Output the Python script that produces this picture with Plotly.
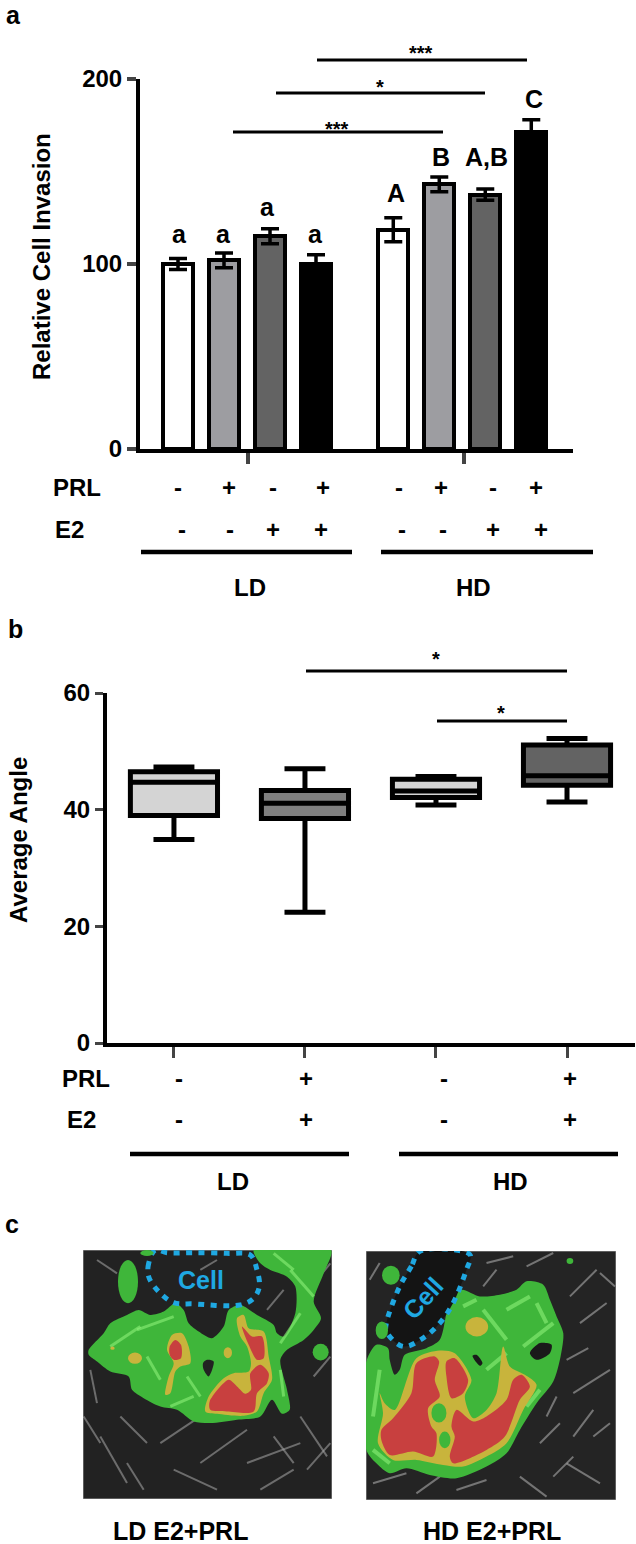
import plotly.graph_objects as go

W, H = 636, 1544
FONT = "Liberation Sans"

# ---- panel a data
bar_pos = [1, 2, 3, 4, 5.68, 6.68, 7.68, 8.68]
invasion = [100, 102, 115, 100, 118.5, 143, 137.5, 171.5]
invasion_err = [3, 4, 4, 5, 6.5, 4, 3, 6.5]
bar_fill = ["#ffffff", "#9d9da1", "#636363", "#000000", "#ffffff", "#9d9da1", "#636363", "#000000"]
a_letters = ["a", "a", "a", "a", "A", "B", "A,B", "C"]
a_letter_px = [(179, 234), (223, 234), (267, 207), (315, 234), (396, 193), (441, 157), (486, 157), (534, 99)]
a_group_ticks = [2.52, 7.217]
a_prl = ["-", "+", "-", "+", "-", "+", "-", "+"]
a_prl_x = [178, 229, 273, 323, 399, 441, 493, 536]
a_e2 = ["-", "-", "+", "+", "-", "-", "+", "+"]
a_e2_x = [182, 230, 273, 321, 402, 443, 493, 541]

# ---- panel b data
box_pos = [1, 2, 3, 4]
box_low = [34.9, 22.4, 40.8, 41.3]
box_q1 = [39.0, 38.5, 42.1, 44.2]
box_med = [44.7, 41.1, 43.2, 45.8]
box_q3 = [46.5, 43.3, 45.2, 51.1]
box_high = [47.3, 47.0, 45.7, 52.2]
box_fill = ["#d4d4d4", "#7f7f7f", "#d4d4d4", "#636363"]
b_prl = ["-", "+", "-", "+"]
b_e2 = ["-", "+", "-", "+"]
b_sign_x = [179, 306, 444, 570]

# ---- annotation layout
sig_lines = [(317, 527, 60), (276, 485, 93), (233, 443, 132), (306, 567, 671), (437, 567, 721)]
sig_stars = [("***", 421, 53), ("*", 380, 87), ("***", 337, 129), ("*", 436, 659), ("*", 501, 713)]
group_lines = [(141, 352, 552), (381, 593, 552), (130, 349, 1154), (399, 618, 1154)]

# ---- panel c outlines (in micrograph pixel coordinates)
LD_GREEN = [(85,360),(130,310),(150,280),(200,255),(235,240),(270,255),(310,245),(345,220),(370,240),(385,280),(415,305),(455,325),(490,290),(505,240),(540,225),(590,255),(640,285),(650,310),(670,320),(705,250),(705,170),(680,140),(630,120),(600,100),(580,60),(812,60),(790,130),(760,215),(782,265),(760,300),(730,330),(680,360),(660,390),(680,480),(688,540),(665,552),(635,510),(600,560),(530,570),(450,580),(400,575),(350,540),(300,530),(250,505),(215,480),(205,440),(150,425),(110,395),(85,375)]
LD_HOLE = [(440,390),(460,395),(445,440),(430,420),(428,400)]
LD_YELLOW = [
    [(320,360),(335,315),(365,310),(385,350),(390,400),(360,410),(345,425),(330,490),(315,495),(325,440),(340,400)],
    [(530,265),(550,255),(565,295),(610,305),(625,380),(635,450),(610,490),(590,545),(550,558),(470,552),(435,545),(445,500),(490,445),(520,430),(565,425),(572,400),(560,350),(540,320)],
]
LD_RED = [
    [(328,350),(345,330),(362,345),(362,385),(340,390),(328,375)],
    [(545,290),(575,320),(605,320),(610,385),(590,390),(565,345)],
    [(570,430),(600,405),(625,430),(620,460),(590,490),(580,545),(500,545),(450,540),(448,515),(505,450),(530,470),(555,492),(572,480)],
]
LD_CELL = [(285,60),(265,100),(265,140),(295,185),(340,218),(400,222),(540,225),(580,205),(597,170),(590,120),(570,75),(500,70),(400,68),(320,68),(285,60)]
LD_OVALS = [((173,90,233,220),"g"),((757,342,805,392),"g"),((240,60,280,78),"g"),((203,368,245,402),"y"),((490,352,515,385),"y"),((150,350,163,360),"y")]
LD_FIBRES = [(70,560,120,640),(120,620,200,760),(200,700,250,780),(300,640,420,560),(420,700,560,600),(560,700,720,640),(640,620,700,700),(720,560,800,680),(90,420,110,520),(420,120,470,90),(110,90,170,130),(620,240,670,180),(180,560,260,640),(340,720,470,780),(600,780,700,720),(740,720,810,640),(770,150,810,100),(760,440,810,380)]
LD_STREAKS = [(230,300,340,260),(400,500,330,530),(380,440,420,500),(690,120,760,200),(640,70,700,120),(720,250,660,340),(150,350,240,290),(260,380,300,450),(660,420,670,500)]

HD_GREEN = [(80,395),(110,345),(145,355),(150,390),(165,435),(180,420),(195,375),(260,355),(300,330),(330,215),(365,180),(420,200),(480,195),(530,180),(560,155),(610,165),(630,210),(650,260),(670,310),(662,380),(640,455),(590,520),(540,600),(500,670),(440,710),(350,745),(270,735),(200,715),(150,730),(110,700),(80,660)]
HD_HOLES = [[(570,370),(600,340),(635,345),(630,370),(590,390)], [(398,378),(410,375),(428,400),(420,408)]]
HD_YELLOW = [(120,490),(135,520),(165,540),(230,385),(300,362),(345,370),(395,450),(375,500),(400,565),(440,540),(470,490),(490,350),(510,410),(555,435),(590,465),(550,540),(500,640),(440,680),(370,710),(310,705),(230,690),(160,690),(115,640),(130,550)]
HD_RED = [
    [(125,600),(160,565),(215,490),(230,400),(285,380),(298,395),(285,450),(300,500),(265,535),(275,590),(290,610),(280,680),(220,665),(150,675),(125,630)],
    [(320,395),(345,385),(385,450),(370,490),(335,505),(320,440)],
    [(350,540),(400,575),(440,560),(500,510),(520,450),(545,435),(570,470),(540,510),(495,620),(440,660),(340,700),(330,680),(345,620),(335,590)],
]
HD_CELL = [(240,65),(215,110),(180,170),(140,280),(140,305),(190,350),(250,325),(300,280),(340,220),(380,120),(392,78),(370,65),(240,65)]
HD_OVALS = [((127,108,180,165),"g"),((108,275,145,328),"g"),((680,85,700,103),"g"),((377,262,445,320),"y"),((275,520,320,578),"g"),((298,605,332,655),"g")]
HD_FIBRES = [(700,490,810,420),(680,390,745,355),(620,560,650,500),(440,100,520,80),(780,130,825,170),(690,200,770,120),(600,640,660,580),(540,740,620,800),(680,700,780,760),(100,760,200,730),(230,790,300,740),(700,620,760,540),(430,170,470,120),(720,280,800,220),(640,740,700,680),(90,150,120,100),(560,110,640,70),(760,620,810,580),(350,780,440,750)]
HD_STREAKS = [(500,240,570,200),(430,240,500,330),(550,350,640,280),(440,420,500,370),(590,220,620,280),(120,420,100,560),(100,660,150,700),(560,530,600,480),(370,230,410,210)]

# ---- helpers
def fx(x): return x / W
def fy(y): return 1 - y / H

traces, shapes, notes = [], [], []

def note(text, x, y, size=24, bold=True, color="#000000", angle=0):
    notes.append(dict(text=text, x=fx(x), y=fy(y), xref="paper", yref="paper", showarrow=False,
                      xanchor="center", yanchor="middle", textangle=angle,
                      font=dict(family=FONT, size=size, color=color, weight=700 if bold else 400)))

def hline(x0, x1, y, width):
    shapes.append(dict(type="line", xref="paper", yref="paper", x0=fx(x0), x1=fx(x1), y0=fy(y), y1=fy(y),
                       line=dict(color="#000000", width=width)))

def poly(pts, color, xa, ya):
    traces.append(go.Scatter(x=[p[0] for p in pts] + [pts[0][0]], y=[p[1] for p in pts] + [pts[0][1]],
                             mode="lines", fill="toself", fillcolor=color, line=dict(width=0, color=color, shape="spline", smoothing=0.8),
                             xaxis=xa, yaxis=ya, showlegend=False, hoverinfo="skip"))

def segs(items, color, width, xa, ya):
    xs, ys = [], []
    for a, b, c, d in items:
        xs += [a, c, None]; ys += [b, d, None]
    traces.append(go.Scatter(x=xs, y=ys, mode="lines", line=dict(color=color, width=width), xaxis=xa, yaxis=ya,
                             showlegend=False, hoverinfo="skip"))

# ---- panel a
traces.append(go.Bar(x=bar_pos, y=invasion, width=0.66, marker=dict(color=bar_fill, line=dict(color="#000000", width=4)),
                     error_y=dict(type="data", array=invasion_err, color="#000000", thickness=3.5, width=9),
                     xaxis="x", yaxis="y", showlegend=False))
for t, (x, y) in zip(a_letters, a_letter_px):
    note(t, x, y, size=25)
for t, x in zip(a_prl, a_prl_x):
    note(t, x, 487)
for t, x in zip(a_e2, a_e2_x):
    note(t, x, 529)
note("PRL", 77, 487); note("E2", 69, 529); note("LD", 250, 587); note("HD", 473, 587)
note("Relative Cell Invasion", 41, 257, size=24, angle=-90)
note("a", 14, 15, size=25); note("b", 15, 629, size=25); note("c", 12, 1224, size=25)

# ---- panel b
for i in range(4):
    traces.append(go.Box(x=[box_pos[i]], q1=[box_q1[i]], median=[box_med[i]], q3=[box_q3[i]],
                         lowerfence=[box_low[i]], upperfence=[box_high[i]], width=0.665, whiskerwidth=0.47,
                         fillcolor=box_fill[i], line=dict(color="#000000", width=5), xaxis="x2", yaxis="y2",
                         showlegend=False, boxpoints=False))
for t, x in zip(b_prl, b_sign_x):
    note(t, x, 1078)
for t, x in zip(b_e2, b_sign_x):
    note(t, x, 1119)
note("PRL", 86, 1078); note("E2", 81, 1119); note("LD", 233, 1181); note("HD", 510, 1181)
note("Average Angle", 18, 840, size=24, angle=-90)

for x0, x1, y in sig_lines:
    hline(x0, x1, y, 3)
for t, x, y in sig_stars:
    note(t, x, y, size=20)
for x0, x1, y in group_lines:
    hline(x0, x1, y, 4.5)

# ---- panel c
GREEN, YELLOW, RED = "#3fb63a", "#c8b43c", "#c8403f"
BLUE = "#1fa8e2"
def ovals(items, xref, yref):
    for (x0, y0, x1, y1), c in items:
        shapes.append(dict(type="circle", xref=xref, yref=yref, x0=x0, y0=y0, x1=x1, y1=y1,
                           fillcolor=GREEN if c == "g" else YELLOW, line=dict(width=0)))

segs(LD_FIBRES, "rgba(170,170,170,0.55)", 2, "x3", "y3")
poly(LD_GREEN, GREEN, "x3", "y3")
segs(LD_STREAKS, "rgba(140,240,120,0.6)", 3, "x3", "y3")
poly(LD_HOLE, "#222222", "x3", "y3")
for p in LD_YELLOW: poly(p, YELLOW, "x3", "y3")
for p in LD_RED: poly(p, RED, "x3", "y3")
ovals(LD_OVALS, "x3", "y3")
traces.append(go.Scatter(x=[p[0] for p in LD_CELL], y=[p[1] for p in LD_CELL], mode="lines",
                         line=dict(color=BLUE, width=5, dash="6px,6.5px", shape="spline"), xaxis="x3", yaxis="y3",
                         showlegend=False, hoverinfo="skip"))

segs(HD_FIBRES, "rgba(170,170,170,0.6)", 2, "x4", "y4")
poly(HD_GREEN, GREEN, "x4", "y4")
segs(HD_STREAKS, "rgba(140,240,120,0.6)", 4, "x4", "y4")
for p in HD_HOLES: poly(p, "#1a1a1a", "x4", "y4")
poly(HD_YELLOW, YELLOW, "x4", "y4")
for p in HD_RED: poly(p, RED, "x4", "y4")
ovals(HD_OVALS, "x4", "y4")
traces.append(go.Scatter(x=[p[0] for p in HD_CELL], y=[p[1] for p in HD_CELL], mode="lines", fill="toself", fillcolor="#141414",
                         line=dict(color=BLUE, width=5, dash="6px,6.5px", shape="spline"), xaxis="x4", yaxis="y4",
                         showlegend=False, hoverinfo="skip"))

note("Cell", 201, 1280, size=25, color=BLUE)
note("Cell", 423, 1298, size=25, color=BLUE, angle=-48)
note("LD E2+PRL", 180, 1531, size=25)
note("HD E2+PRL", 492, 1531, size=25)

AXF = dict(family=FONT, size=24, color="#000000", weight=700)
def xbase(l, r):
    return dict(domain=[fx(l), fx(r)], showgrid=False, zeroline=False, automargin=False)
def ybase(t, b):
    return dict(domain=[fy(b), fy(t)], showgrid=False, zeroline=False, automargin=False)

fig = go.Figure(traces)
fig.update_layout(
    width=W, height=H, margin=dict(l=0, r=0, t=0, b=0), paper_bgcolor="white", plot_bgcolor="rgba(0,0,0,0)",
    bargap=0, hovermode=False, showlegend=False, shapes=shapes, annotations=notes, boxmode="overlay",
    xaxis=dict(xbase(140, 573), range=[0.174, 9.587], tickvals=a_group_ticks, ticktext=["", ""], ticks="outside",
               ticklen=11, tickwidth=4, showline=True, linewidth=4, linecolor="#000000", anchor="y"),
    yaxis=dict(ybase(79, 449), range=[0, 200], tickvals=[0, 100, 200], ticks="outside", ticklen=9, tickwidth=4,
               showline=True, linewidth=4, linecolor="#000000", tickfont=AXF, anchor="x"),
    xaxis2=dict(xbase(107, 635), range=[0.489, 4.519], tickvals=box_pos, ticktext=["", "", "", ""], ticks="outside",
                ticklen=11, tickwidth=3, showline=True, linewidth=4, linecolor="#000000", anchor="y2"),
    yaxis2=dict(ybase(693, 1043), range=[0, 60], tickvals=[0, 20, 40, 60], ticks="outside", ticklen=8, tickwidth=3,
                showline=True, linewidth=4, linecolor="#000000", tickfont=AXF, anchor="x2"),
    xaxis3=dict(xbase(83, 332), range=[68, 815], visible=False, anchor="y3"),
    yaxis3=dict(ybase(1250, 1499), range=[808, 60], visible=False, anchor="x3"),
    xaxis4=dict(xbase(366, 616), range=[79, 828], visible=False, anchor="y4"),
    yaxis4=dict(ybase(1251, 1500), range=[810, 64], visible=False, anchor="x4"),
)
for ref, (l, t, r, b), col in [("3", (68, 60, 815, 808), "#222222"), ("4", (79, 64, 828, 810), "#242424")]:
    fig.add_shape(type="rect", xref="x" + ref, yref="y" + ref, x0=l, y0=t, x1=r, y1=b, fillcolor=col,
                  line=dict(color="#999999", width=1), layer="below")
fig.write_html("out.html", post_script="document.body.style.margin='0';", config=dict(displayModeBar=False))
